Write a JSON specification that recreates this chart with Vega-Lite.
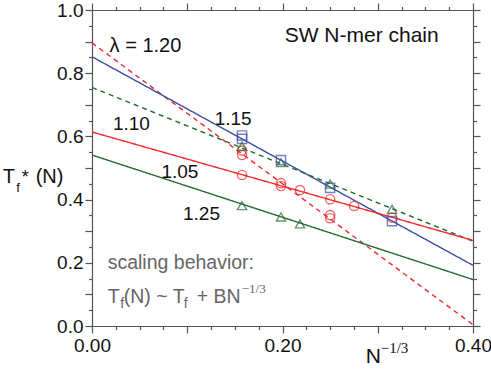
{
  "$schema": "https://vega.github.io/schema/vega-lite/v6.json",
  "width": 381,
  "height": 316,
  "autosize": "none",
  "padding": {"left": 92, "top": 10, "right": 18, "bottom": 45},
  "background": "white",
  "config": {
    "view": {"stroke": null},
    "axis": {"grid": false, "domainColor": "#555555", "tickColor": "#555555", "labelFont": "Liberation Sans", "labelFontSize": 19, "labelColor": "#111111", "domainWidth": 1.2, "tickWidth": 1.2, "labelFlush": false, "labelOverlap": false, "labelBound": false},
    "text": {"font": "Liberation Sans"}
  },
  "datasets": {
    "fits": [
      {"s": "r120", "x": 0, "y": 0.896}, {"s": "r120", "x": 0.4, "y": 0.004},
      {"s": "b115", "x": 0, "y": 0.852}, {"s": "b115", "x": 0.4, "y": 0.192},
      {"s": "g110", "x": 0, "y": 0.755}, {"s": "g110", "x": 0.4, "y": 0.268},
      {"s": "r105", "x": 0, "y": 0.614}, {"s": "r105", "x": 0.4, "y": 0.271},
      {"s": "g125", "x": 0, "y": 0.541}, {"s": "g125", "x": 0.4, "y": 0.147}
    ],
    "pts": [
      {"s": "r105", "x": 0.1575, "y": 0.478}, {"s": "r105", "x": 0.1984, "y": 0.443}, {"s": "r105", "x": 0.2184, "y": 0.430}, {"s": "r105", "x": 0.25, "y": 0.401}, {"s": "r105", "x": 0.2752, "y": 0.380}, {"s": "r105", "x": 0.315, "y": 0.343},
      {"s": "r120", "x": 0.1575, "y": 0.555}, {"s": "r120", "x": 0.1575, "y": 0.541}, {"s": "r120", "x": 0.1984, "y": 0.452}, {"s": "r120", "x": 0.25, "y": 0.351}, {"s": "r120", "x": 0.25, "y": 0.341},
      {"s": "b115", "x": 0.1575, "y": 0.603}, {"s": "b115", "x": 0.1575, "y": 0.592}, {"s": "b115", "x": 0.1984, "y": 0.525}, {"s": "b115", "x": 0.25, "y": 0.437}, {"s": "b115", "x": 0.315, "y": 0.332},
      {"s": "g110", "x": 0.1575, "y": 0.569}, {"s": "g110", "x": 0.1984, "y": 0.517}, {"s": "g110", "x": 0.25, "y": 0.449}, {"s": "g110", "x": 0.315, "y": 0.369},
      {"s": "g125", "x": 0.1575, "y": 0.381}, {"s": "g125", "x": 0.1984, "y": 0.345}, {"s": "g125", "x": 0.2184, "y": 0.323}
    ],
    "txt": [
      {"g": "lab", "x": 0.1288, "y": 0.6357, "t": "1.15"},
      {"g": "lab", "x": 0.0220, "y": 0.620, "t": "1.10"},
      {"g": "lab", "x": 0.0729, "y": 0.4669, "t": "1.05"},
      {"g": "lab", "x": 0.0955, "y": 0.3348, "t": "1.25"},
      {"g": "lam", "x": 0.0185, "y": 0.868, "t": "λ = 1.20"},
      {"g": "sw", "x": 0.2023, "y": 0.8977, "t": "SW N-mer chain"},
      {"g": "gray", "x": 0.01648, "y": 0.1818, "t": "scaling behavior:"},
      {"g": "gray", "x": 0.01648, "y": 0.0719, "t": "T"},
      {"g": "gray", "x": 0.0333, "y": 0.0719, "t": "(N) ~ T"},
      {"g": "gray", "x": 0.1099, "y": 0.0719, "t": "+ BN"},
      {"g": "graysub", "x": 0.0296, "y": 0.0561, "t": "f"},
      {"g": "graysub", "x": 0.0963, "y": 0.0561, "t": "f"},
      {"g": "graysup", "x": 0.1572, "y": 0.1036, "t": "−1/3"},
      {"g": "yt", "x": -0.0938, "y": 0.452, "t": "T"},
      {"g": "yt", "x": -0.0591, "y": 0.452, "t": "(N)"},
      {"g": "ysub", "x": -0.0796, "y": 0.4251, "t": "f"},
      {"g": "ystar", "x": -0.0738, "y": 0.452, "t": "*"},
      {"g": "xN", "x": 0.2874, "y": -0.118, "t": "N"},
      {"g": "xsup", "x": 0.3031, "y": -0.0865, "t": "−1/3"}
    ]
  },
  "layer": [
    {
      "data": {"name": "fits"},
      "mark": {"type": "line", "strokeWidth": 1.4},
      "encoding": {
        "x": {"field": "x", "type": "quantitative", "scale": {"domain": [0, 0.4], "nice": false, "zero": false},
          "axis": {"orient": "bottom", "title": null, "values": [0,0.025,0.05,0.075,0.1,0.125,0.15,0.175,0.2,0.225,0.25,0.275,0.3,0.325,0.35,0.375,0.4],
            "labelExpr": "abs(datum.value*5 - round(datum.value*5)) < 0.001 ? format(datum.value, '.2f') : ''",
            "tickSize": {"condition": {"test": "abs(datum.value*10 - round(datum.value*10)) < 0.001", "value": 7}, "value": 3.5},
            "labelPadding": 3}},
        "y": {"field": "y", "type": "quantitative", "scale": {"domain": [0, 1], "nice": false, "zero": false},
          "axis": {"orient": "left", "title": null, "values": [0,0.05,0.1,0.15,0.2,0.25,0.3,0.35,0.4,0.45,0.5,0.55,0.6,0.65,0.7,0.75,0.8,0.85,0.9,0.95,1.0],
            "labelExpr": "abs(datum.value*5 - round(datum.value*5)) < 0.001 ? format(datum.value, '.1f') : ''",
            "tickSize": {"condition": {"test": "abs(datum.value*10 - round(datum.value*10)) < 0.001", "value": 7}, "value": 3.5},
            "labelPadding": 2}},
        "color": {"field": "s", "type": "nominal", "legend": null,
          "scale": {"domain": ["r120", "b115", "g110", "r105", "g125"], "range": ["#ee2a2e", "#3b4ca6", "#236b30", "#ee2a2e", "#236b30"]}},
        "strokeDash": {"field": "s", "type": "nominal", "legend": null,
          "scale": {"domain": ["r120", "b115", "g110", "r105", "g125"], "range": [[5, 4], [1, 0], [5, 4], [1, 0], [1, 0]]}}
      }
    },
    {
      "data": {"name": "pts"},
      "mark": {"type": "point", "filled": false, "strokeWidth": 1.4, "size": 85},
      "encoding": {
        "x": {"field": "x", "type": "quantitative", "scale": {"domain": [0, 0.4], "nice": false, "zero": false},
          "axis": {"orient": "top", "title": null, "labels": false, "values": [0,0.025,0.05,0.075,0.1,0.125,0.15,0.175,0.2,0.225,0.25,0.275,0.3,0.325,0.35,0.375,0.4],
            "tickSize": {"condition": {"test": "abs(datum.value*10 - round(datum.value*10)) < 0.001", "value": 7}, "value": 3.5}}},
        "y": {"field": "y", "type": "quantitative", "scale": {"domain": [0, 1], "nice": false, "zero": false},
          "axis": {"orient": "right", "title": null, "labels": false, "values": [0,0.05,0.1,0.15,0.2,0.25,0.3,0.35,0.4,0.45,0.5,0.55,0.6,0.65,0.7,0.75,0.8,0.85,0.9,0.95,1.0],
            "tickSize": {"condition": {"test": "abs(datum.value*10 - round(datum.value*10)) < 0.001", "value": 7}, "value": 3.5}}},
        "color": {"field": "s", "type": "nominal", "legend": null},
        "shape": {"field": "s", "type": "nominal", "legend": null,
          "scale": {"domain": ["r120", "b115", "g110", "r105", "g125"], "range": ["circle", "square", "triangle-up", "circle", "triangle-up"]}}
      }
    },
    {
      "data": {"name": "txt"},
      "transform": [{"filter": "datum.g == 'lab'"}],
      "mark": {"type": "text", "align": "left", "baseline": "alphabetic", "fontSize": 19, "color": "#111111"},
      "encoding": {
        "x": {"field": "x", "type": "quantitative", "scale": {"domain": [0, 0.4], "nice": false, "zero": false}, "axis": null},
        "y": {"field": "y", "type": "quantitative", "scale": {"domain": [0, 1], "nice": false, "zero": false}, "axis": null},
        "text": {"field": "t"}
      }
    },
    {
      "data": {"name": "txt"},
      "transform": [{"filter": "datum.g == 'lam'"}],
      "mark": {"type": "text", "align": "left", "baseline": "alphabetic", "fontSize": 20, "color": "#111111"},
      "encoding": {
        "x": {"field": "x", "type": "quantitative", "scale": {"domain": [0, 0.4], "nice": false, "zero": false}, "axis": null},
        "y": {"field": "y", "type": "quantitative", "scale": {"domain": [0, 1], "nice": false, "zero": false}, "axis": null},
        "text": {"field": "t"}
      }
    },
    {
      "data": {"name": "txt"},
      "transform": [{"filter": "datum.g == 'sw'"}],
      "mark": {"type": "text", "align": "left", "baseline": "alphabetic", "fontSize": 21, "color": "#111111"},
      "encoding": {
        "x": {"field": "x", "type": "quantitative", "scale": {"domain": [0, 0.4], "nice": false, "zero": false}, "axis": null},
        "y": {"field": "y", "type": "quantitative", "scale": {"domain": [0, 1], "nice": false, "zero": false}, "axis": null},
        "text": {"field": "t"}
      }
    },
    {
      "data": {"name": "txt"},
      "transform": [{"filter": "datum.g == 'gray'"}],
      "mark": {"type": "text", "align": "left", "baseline": "alphabetic", "fontSize": 19.5, "color": "#666666"},
      "encoding": {
        "x": {"field": "x", "type": "quantitative", "scale": {"domain": [0, 0.4], "nice": false, "zero": false}, "axis": null},
        "y": {"field": "y", "type": "quantitative", "scale": {"domain": [0, 1], "nice": false, "zero": false}, "axis": null},
        "text": {"field": "t"}
      }
    },
    {
      "data": {"name": "txt"},
      "transform": [{"filter": "datum.g == 'graysub'"}],
      "mark": {"type": "text", "align": "left", "baseline": "alphabetic", "fontSize": 14, "color": "#666666"},
      "encoding": {
        "x": {"field": "x", "type": "quantitative", "scale": {"domain": [0, 0.4], "nice": false, "zero": false}, "axis": null},
        "y": {"field": "y", "type": "quantitative", "scale": {"domain": [0, 1], "nice": false, "zero": false}, "axis": null},
        "text": {"field": "t"}
      }
    },
    {
      "data": {"name": "txt"},
      "transform": [{"filter": "datum.g == 'graysup'"}],
      "mark": {"type": "text", "align": "left", "baseline": "alphabetic", "fontSize": 13, "font": "Liberation Serif", "color": "#666666"},
      "encoding": {
        "x": {"field": "x", "type": "quantitative", "scale": {"domain": [0, 0.4], "nice": false, "zero": false}, "axis": null},
        "y": {"field": "y", "type": "quantitative", "scale": {"domain": [0, 1], "nice": false, "zero": false}, "axis": null},
        "text": {"field": "t"}
      }
    },
    {
      "data": {"name": "txt"},
      "transform": [{"filter": "datum.g == 'yt'"}],
      "mark": {"type": "text", "align": "left", "baseline": "alphabetic", "fontSize": 20, "color": "#111111"},
      "encoding": {
        "x": {"field": "x", "type": "quantitative", "scale": {"domain": [0, 0.4], "nice": false, "zero": false}, "axis": null},
        "y": {"field": "y", "type": "quantitative", "scale": {"domain": [0, 1], "nice": false, "zero": false}, "axis": null},
        "text": {"field": "t"}
      }
    },
    {
      "data": {"name": "txt"},
      "transform": [{"filter": "datum.g == 'ysub'"}],
      "mark": {"type": "text", "align": "left", "baseline": "alphabetic", "fontSize": 13, "color": "#111111"},
      "encoding": {
        "x": {"field": "x", "type": "quantitative", "scale": {"domain": [0, 0.4], "nice": false, "zero": false}, "axis": null},
        "y": {"field": "y", "type": "quantitative", "scale": {"domain": [0, 1], "nice": false, "zero": false}, "axis": null},
        "text": {"field": "t"}
      }
    },
    {
      "data": {"name": "txt"},
      "transform": [{"filter": "datum.g == 'ystar'"}],
      "mark": {"type": "text", "align": "left", "baseline": "alphabetic", "fontSize": 18, "color": "#111111"},
      "encoding": {
        "x": {"field": "x", "type": "quantitative", "scale": {"domain": [0, 0.4], "nice": false, "zero": false}, "axis": null},
        "y": {"field": "y", "type": "quantitative", "scale": {"domain": [0, 1], "nice": false, "zero": false}, "axis": null},
        "text": {"field": "t"}
      }
    },
    {
      "data": {"name": "txt"},
      "transform": [{"filter": "datum.g == 'xN'"}],
      "mark": {"type": "text", "align": "left", "baseline": "alphabetic", "fontSize": 21, "color": "#111111"},
      "encoding": {
        "x": {"field": "x", "type": "quantitative", "scale": {"domain": [0, 0.4], "nice": false, "zero": false}, "axis": null},
        "y": {"field": "y", "type": "quantitative", "scale": {"domain": [0, 1], "nice": false, "zero": false}, "axis": null},
        "text": {"field": "t"}
      }
    },
    {
      "data": {"name": "txt"},
      "transform": [{"filter": "datum.g == 'xsup'"}],
      "mark": {"type": "text", "align": "left", "baseline": "alphabetic", "fontSize": 15, "font": "Liberation Serif", "color": "#111111"},
      "encoding": {
        "x": {"field": "x", "type": "quantitative", "scale": {"domain": [0, 0.4], "nice": false, "zero": false}, "axis": null},
        "y": {"field": "y", "type": "quantitative", "scale": {"domain": [0, 1], "nice": false, "zero": false}, "axis": null},
        "text": {"field": "t"}
      }
    }
  ],
  "resolve": {"axis": {"x": "independent", "y": "independent"}}
}
